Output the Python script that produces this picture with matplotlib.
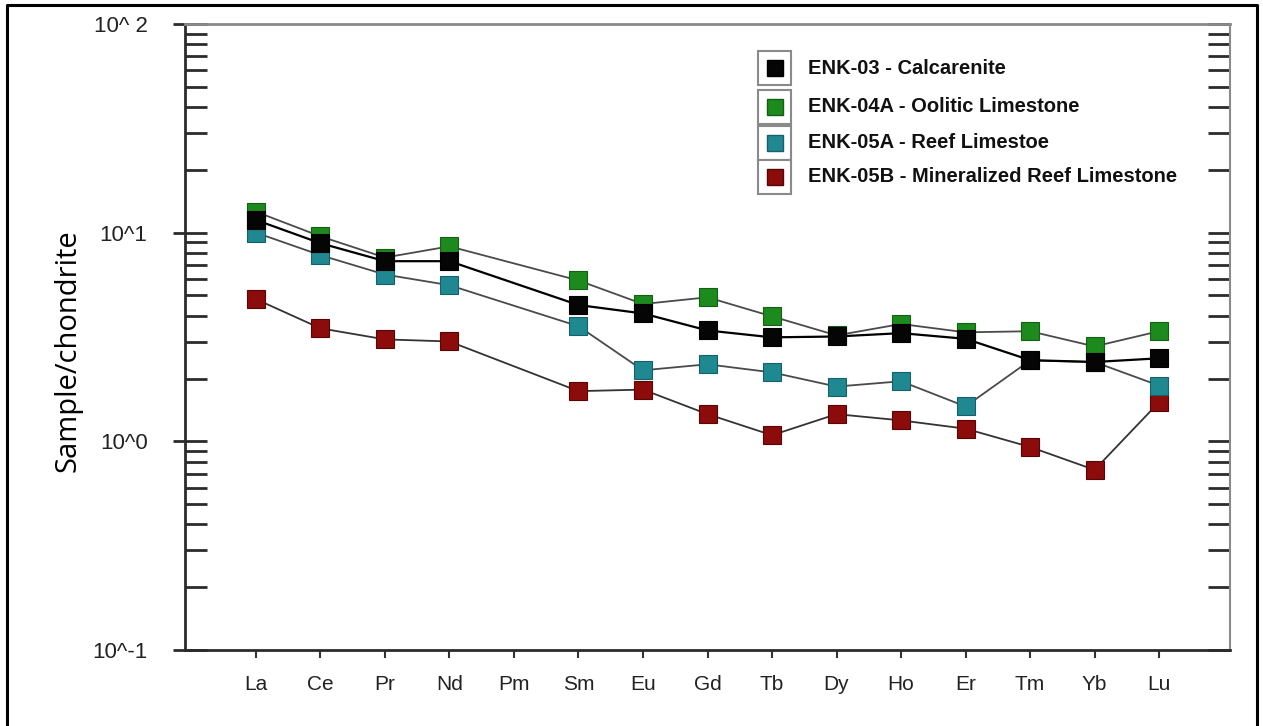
import numpy as np
import matplotlib
matplotlib.use("Agg")
import matplotlib.pyplot as plt
from matplotlib.lines import Line2D
from matplotlib.patches import Rectangle
from matplotlib.ticker import LogLocator, FixedLocator, NullFormatter

# REE pattern, chondrite normalised (Pm not analysed)
elements = ["La", "Ce", "Pr", "Nd", "Pm", "Sm", "Eu", "Gd", "Tb", "Dy", "Ho", "Er", "Tm", "Yb", "Lu"]

enk03 = [11.5, 8.9, 7.3, 7.3, None, 4.5, 4.1, 3.4, 3.15, 3.18, 3.3, 3.1, 2.45, 2.4, 2.5]
enk04a = [12.6, 9.6, 7.6, 8.6, None, 5.9, 4.55, 4.9, 3.97, 3.22, 3.65, 3.33, 3.37, 2.85, 3.37]
enk05a = [10.0, 7.8, 6.3, 5.6, None, 3.56, 2.19, 2.34, 2.14, 1.83, 1.94, 1.47, 2.44, 2.4, 1.85]
enk05b = [4.8, 3.48, 3.08, 3.01, None, 1.74, 1.77, 1.35, 1.07, 1.35, 1.26, 1.15, 0.94, 0.73, 1.54]

labels = ["ENK-03 - Calcarenite",
          "ENK-04A - Oolitic Limestone",
          "ENK-05A - Reef Limestoe",
          "ENK-05B - Mineralized Reef Limestone"]
face_colors = ["#050505", "#1d8a1d", "#1f8890", "#8c0b0b"]
edge_colors = ["#000000", "#145f14", "#15606a", "#5a0505"]
line_colors = ["#000000", "#4a4a4a", "#4a4a4a", "#333333"]

series = [enk03, enk04a, enk05a, enk05b]

fig = plt.figure(figsize=(12.63, 7.26), dpi=100)
ax = fig.add_axes([185 / 1263, 76 / 726, 1045 / 1263, 626 / 726])

x = np.arange(len(elements))
# draw red first so the black series ends up on top
for i in reversed(range(len(series))):
    vals = np.array([np.nan if v is None else v for v in series[i]], dtype=float)
    ok = ~np.isnan(vals)
    ax.plot(x[ok], vals[ok], color=line_colors[i], lw=1.6 if i == 0 else 1.3,
            marker="s", markersize=13, markerfacecolor=face_colors[i],
            markeredgecolor=edge_colors[i], markeredgewidth=0.8, zorder=3 + (3 - i))

ax.set_yscale("log")
ax.set_ylim(0.1, 100)
ax.set_xlim(-1.1, 15.1)

# axis cosmetics
ax.spines["left"].set_color("#2b2b2b")
ax.spines["left"].set_linewidth(2)
ax.spines["bottom"].set_color("#2b2b2b")
ax.spines["bottom"].set_linewidth(2)
ax.spines["top"].set_color("#8a8a8a")
ax.spines["top"].set_linewidth(2)
ax.spines["right"].set_color("#8a8a8a")
ax.spines["right"].set_linewidth(1.5)

ax.set_xticks(x)
ax.set_xticklabels(elements, fontsize=15, family="Liberation Sans", color="#222222")
ax.tick_params(axis="x", direction="out", length=6, width=1.5, color="#333333", pad=12, top=False)

ax.yaxis.set_major_locator(FixedLocator([0.1, 1, 10, 100]))
ax.set_yticklabels(["10^-1", "10^0", "10^1", "10^ 2"], fontsize=16,
                   family="Liberation Sans", color="#222222")
ax.yaxis.set_minor_locator(LogLocator(base=10, subs=np.arange(1, 10)))
ax.yaxis.set_minor_formatter(NullFormatter())
ax.yaxis.remove_overlapping_locs = False
ax.tick_params(axis="y", which="major", direction="out", length=9, width=2,
               color="#2b2b2b", pad=18, left=True, right=False)
ax.tick_params(axis="y", which="minor", direction="in", length=16, width=2,
               color="#2b2b2b", left=True, right=True)

ax.set_ylabel("Sample/chondrite", fontsize=21, family="Open Sans")
ax.yaxis.set_label_coords((82 - 185) / 1045, 0.478)

# legend drawn by hand: small grey boxes holding the marker, bold text beside
row_y = [68, 107, 143, 177]
for i in range(len(labels)):
    cy = 1 - row_y[i] / 726
    box = Rectangle((758 / 1263, cy - 17 / 726), 33 / 1263, 34 / 726,
                    transform=fig.transFigure, facecolor="white",
                    edgecolor="#8a8a8a", lw=1.5, zorder=10)
    fig.add_artist(box)
    fig.add_artist(Line2D([774.5 / 1263], [cy], transform=fig.transFigure,
                          marker="s", markersize=11, markerfacecolor=face_colors[i],
                          markeredgecolor=edge_colors[i], linestyle="none", zorder=11))
    fig.text(808 / 1263, cy, labels[i], fontsize=14.5, fontweight="bold",
             family="Liberation Sans", va="center", ha="left", color="#111111")

# page frame
fig.add_artist(Line2D([7 / 1263, 7 / 1263, 1257 / 1263, 1257 / 1263],
                      [0, 1 - 5 / 726, 1 - 5 / 726, 0],
                      transform=fig.transFigure, color="black", lw=2.2))

fig.savefig("out.png", dpi=100, facecolor="white")
